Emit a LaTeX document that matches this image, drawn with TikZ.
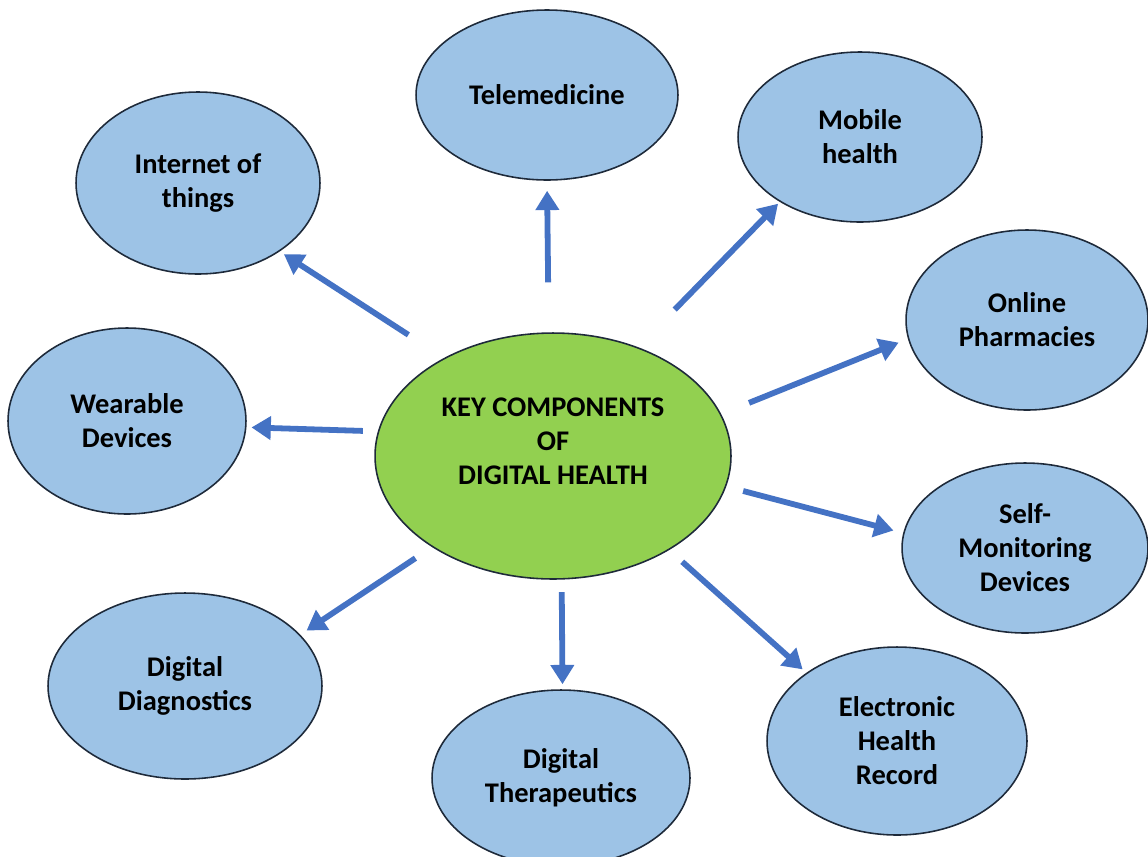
\documentclass[tikz,border=0pt]{standalone}
\usepackage{fontspec}
\setmainfont{Carlito}
\usepackage{xcolor}
\usetikzlibrary{arrows.meta, shapes, positioning}

\definecolor{leafblue}{HTML}{9DC3E6}
\definecolor{hubgreen}{HTML}{92D050}
\definecolor{arrowblue}{HTML}{4472C4}
\definecolor{rimdark}{HTML}{1E2A3A}

\tikzset{
  leaf/.style={ellipse, draw=rimdark, line width=0.9pt, fill=leafblue, inner sep=0pt,
    align=center, font=\fontsize{16.2}{19.3}\selectfont\bfseries},
  hub/.style={leaf, fill=hubgreen},
  spoke/.style={draw=arrowblue, line width=3.3pt, -{Triangle[length=11pt, width=13pt]}}
}

\begin{document}
\begin{tikzpicture}[x=0.02cm, y=-0.02cm]
            \useasboundingbox (0,0) rectangle (1148,856);
            \node[hub, minimum width=7.12cm, minimum height=4.92cm, text depth=0.6cm] (center) at (553,456) {KEY COMPONENTS\\OF\\DIGITAL HEALTH};

            \node[leaf, minimum width=5.24cm, minimum height=3.4cm] (tele) at (547,95) {Telemedicine};
            \node[leaf, minimum width=4.88cm, minimum height=3.4cm] (mobile) at (860,137) {Mobile\\health};
            \node[leaf, minimum width=4.88cm, minimum height=3.64cm] (iot) at (198,183) {Internet of\\things};
            \node[leaf, minimum width=4.84cm, minimum height=3.6cm] (pharm) at (1027,320) {Online\\Pharmacies};
            \node[leaf, minimum width=4.76cm, minimum height=3.72cm] (wear) at (127,421) {Wearable\\Devices};
            \node[leaf, minimum width=4.92cm, minimum height=3.4cm] (selfmon) at (1025,548) {Self-\\Monitoring\\Devices};
            \node[leaf, minimum width=5.48cm, minimum height=3.72cm] (diag) at (185,686) {Digital\\Diagnostics};
            \node[leaf, minimum width=5.16cm, minimum height=3.52cm] (thera) at (561,778) {Digital\\Therapeutics};
            \node[leaf, minimum width=5.2cm, minimum height=3.76cm] (ehr) at (897,741) {Electronic\\Health\\Record};

            \draw[spoke, shorten <=1cm, shorten >=0.2cm] (center.92) -- (tele.270);
            \draw[spoke, shorten <=1.05cm, shorten >=0.05cm] (center.52) -- (mobile.219);
            \draw[spoke, shorten <=0.85cm, shorten >=0.1cm] (center.138) -- (iot.320);
            \draw[spoke, shorten <=0.6cm, shorten >=0.2cm] (center.14) -- (pharm.189);
            \draw[spoke, shorten <=0.3cm, shorten >=0.1cm] (center.172) -- (wear.357);
            \draw[spoke, shorten <=0.35cm, shorten >=0.2cm] (center.350) -- (selfmon.173);
            \draw[spoke, shorten <=0.4cm, shorten >=0.15cm] (center.217) -- (diag.24);
            \draw[spoke, shorten <=0.25cm, shorten >=0.1cm] (center.274) -- (thera.89);
            \draw[spoke, shorten <=0.35cm, shorten >=0.1cm] (center.321) -- (ehr.143);
        \end{tikzpicture}
\end{document}
